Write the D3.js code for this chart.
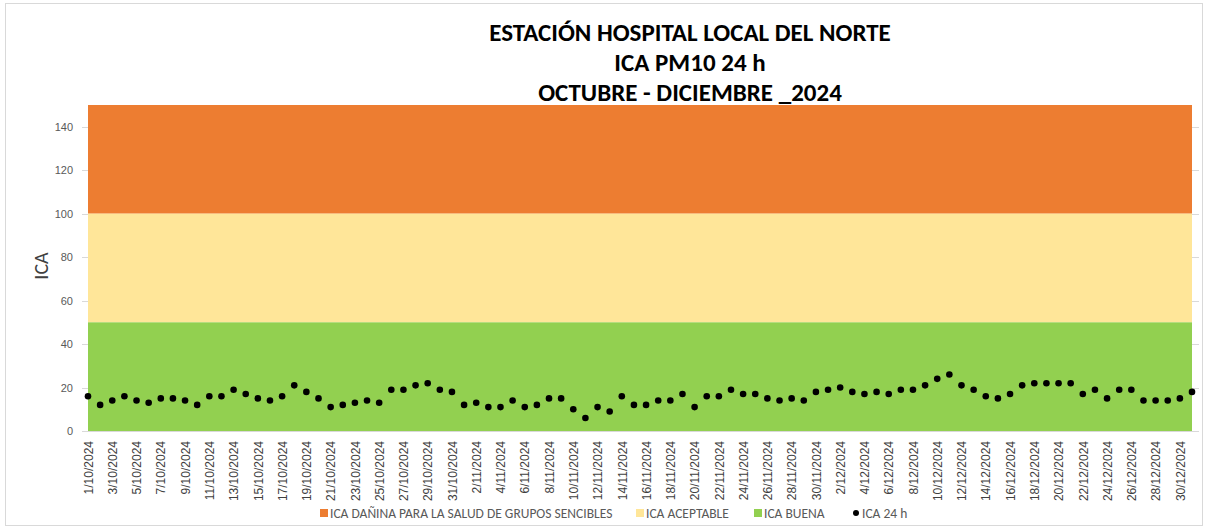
<!DOCTYPE html>
<html>
<head>
<meta charset="utf-8">
<script src="https://cdn.jsdelivr.net/npm/d3@7"></script>
<style>
  body { margin: 0; background: #fff; }
  svg { font-family: Calibri, Carlito, Lato, "Open Sans", sans-serif; }
</style>
</head>
<body>
<div id="chart"></div>
<script>
// Title lines
var titleLines = ["ESTACIÓN HOSPITAL LOCAL DEL NORTE", "ICA PM10 24 h", "OCTUBRE - DICIEMBRE _2024"];

// Categories: every day from 1/10/2024 to 31/12/2024
var days = d3.timeDay.range(new Date(2024, 9, 1), new Date(2025, 0, 1));
var dayLabels = days.map(d => d.getDate() + "/" + (d.getMonth() + 1) + "/" + d.getFullYear());

// ICA 24 h values
var ica24h = [
  16, 12, 14, 16, 14, 13, 15, 15, 14, 12,
  16, 16, 19, 17, 15, 14, 16, 21, 18, 15,
  11, 12, 13, 14, 13, 19, 19, 21, 22, 19,
  18, 12, 13, 11, 11, 14, 11, 12, 15, 15,
  10, 6, 11, 9, 16, 12, 12, 14, 14, 17,
  11, 16, 16, 19, 17, 17, 15, 14, 15, 14,
  18, 19, 20, 18, 17, 18, 17, 19, 19, 21,
  24, 26, 21, 19, 16, 15, 17, 21, 22, 22,
  22, 22, 17, 19, 15, 19, 19, 14, 14, 14,
  15, 18
];

// Background bands (ICA categories)
var bandNames  = ["ICA DAÑINA PARA LA SALUD DE GRUPOS SENCIBLES", "ICA ACEPTABLE", "ICA BUENA"];
var bandLow    = [100, 50, 0];
var bandHigh   = [150, 100, 50];
var bandColors = ["#ED7D31", "#FFE699", "#92D050"];

var yTicks = [0, 20, 40, 60, 80, 100, 120, 140];

var W = 1208, H = 529;
var margin = {top: 105, right: 16, bottom: 98, left: 88};

var svg = d3.select("#chart").append("svg")
  .attr("width", W)
  .attr("height", H);

// outer frame
svg.append("rect")
  .attr("x", 5.5).attr("y", 3.5)
  .attr("width", W - 11).attr("height", H - 7)
  .attr("fill", "none")
  .attr("stroke", "#d9d9d9");

var x = d3.scalePoint()
  .domain(dayLabels)
  .range([margin.left, W - margin.right]);

var y = d3.scaleLinear()
  .domain([0, 150])
  .range([H - margin.bottom, margin.top]);

// gridlines (mostly hidden under the bands)
svg.append("g")
  .selectAll("line")
  .data(yTicks)
  .join("line")
    .attr("x1", margin.left - 6)
    .attr("x2", W - margin.right + 7)
    .attr("y1", d => Math.round(y(d)) + 0.5)
    .attr("y2", d => Math.round(y(d)) + 0.5)
    .attr("stroke", "#d9d9d9");

// bands
svg.append("g")
  .selectAll("rect")
  .data(bandNames)
  .join("rect")
    .attr("x", x(dayLabels[0]))
    .attr("width", x(dayLabels[dayLabels.length - 1]) - x(dayLabels[0]))
    .attr("y", (d, i) => y(bandHigh[i]))
    .attr("height", (d, i) => y(bandLow[i]) - y(bandHigh[i]))
    .attr("fill", (d, i) => bandColors[i]);

// y axis
var yAxis = svg.append("g")
  .attr("transform", "translate(" + (margin.left - 6) + ",0)")
  .call(d3.axisLeft(y).tickValues(yTicks).tickSize(0).tickPadding(9));
yAxis.select(".domain").remove();
yAxis.selectAll("text")
  .attr("fill", "#595959")
  .style("font-size", "11px");

svg.append("text")
  .attr("transform", "translate(48," + (y(75) - 2) + ") rotate(-90)")
  .attr("text-anchor", "middle")
  .attr("fill", "#404040")
  .style("font-size", "20px")
  .text("ICA");

// x axis labels every two days
var xAxis = svg.append("g")
  .attr("transform", "translate(0," + (H - margin.bottom) + ")")
  .call(d3.axisBottom(x)
    .tickValues(dayLabels.filter((d, i) => i % 2 == 0))
    .tickSize(0)
    .tickPadding(0));
xAxis.select(".domain")
  .attr("stroke", "#d9d9d9");
xAxis.selectAll("text")
  .attr("transform", "rotate(-90)")
  .attr("text-anchor", "end")
  .attr("x", -10)
  .attr("y", 0)
  .attr("dy", "0.35em")
  .attr("fill", "#404040")
  .style("font-size", "12px");

// ICA 24 h points
svg.append("g")
  .selectAll("circle")
  .data(ica24h)
  .join("circle")
    .attr("cx", (d, i) => x(dayLabels[i]))
    .attr("cy", d => y(d))
    .attr("r", 3.3)
    .attr("fill", "#000");

// title
var titleBase = [41, 71, 101];
svg.append("g")
  .selectAll("text")
  .data(titleLines)
  .join("text")
    .attr("x", 690)
    .attr("y", (d, i) => titleBase[i])
    .attr("text-anchor", "middle")
    .attr("font-weight", "bold")
    .attr("fill", "#000")
    .style("font-size", "25px")
    .text(d => d);

// legend
var legendItems = bandNames.concat(["ICA 24 h"]);
var legendX = [320, 636, 754, 852];
var legend = svg.append("g")
  .attr("transform", "translate(0,513)");
legendItems.forEach(function(name, i) {
  var g = legend.append("g").attr("transform", "translate(" + legendX[i] + ",0)");
  if (i < 3) {
    g.append("rect")
      .attr("x", 0).attr("y", -4)
      .attr("width", 8).attr("height", 8)
      .attr("fill", bandColors[i]);
  } else {
    g.append("circle")
      .attr("cx", 4).attr("cy", 0)
      .attr("r", 3)
      .attr("fill", "#000");
  }
  g.append("text")
    .attr("x", 10)
    .attr("dy", "0.35em")
    .attr("fill", "#595959")
    .style("font-size", "13.5px")
    .text(name);
});
</script>
</body>
</html>
